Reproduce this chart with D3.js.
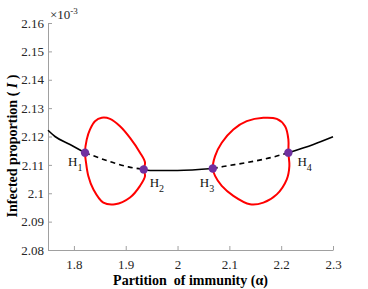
<!DOCTYPE html>
<html>
<head>
<meta charset="UTF-8">
<style>
  body { margin: 0; background: #fff; }
  svg, svg text, .tick text { font-family: "Liberation Serif", "Times New Roman", Times, serif !important; }
</style>
<script src="https://d3js.org/d3.v7.min.js"></script>
</head>
<body>
<script>
// values in units of 1e-3
var xTicks = [1.8, 1.9, 2.0, 2.1, 2.2, 2.3];
var yTicks = [2.08, 2.09, 2.10, 2.11, 2.12, 2.13, 2.14, 2.15, 2.16];

var solidA = [[1.75, 2.1222], [1.7635, 2.1200], [1.7925, 2.1172], [1.8214, 2.1143]];
var dashedA = [[1.8214, 2.1143], [1.8755, 2.1108], [1.905, 2.1093], [1.9347, 2.1084]];
var solidB = [[1.9347, 2.1084], [1.947, 2.1080], [2.0, 2.1080], [2.068, 2.1087]];
var dashedB = [[2.068, 2.1087], [2.0878, 2.1094], [2.1336, 2.1108], [2.1915, 2.1131], [2.2139, 2.1143]];
var solidC = [[2.2139, 2.1143], [2.2622, 2.1172], [2.3, 2.1199]];

var loop1 = [[1.8214, 2.1143], [1.8247, 2.1189], [1.8311, 2.1225], [1.8407, 2.1254], [1.8537, 2.1266],
  [1.8697, 2.1262], [1.889, 2.1236], [1.9083, 2.1195], [1.9276, 2.1143], [1.9373, 2.1108],
  [1.9347, 2.1084], [1.9373, 2.1061], [1.9276, 2.1026], [1.9083, 2.0985], [1.8793, 2.0961],
  [1.8568, 2.0967], [1.8375, 2.1014], [1.8278, 2.1061], [1.8234, 2.1108]];
var loop2 = [[2.068, 2.1087], [2.0724, 2.1131], [2.0853, 2.1178], [2.1077, 2.1225], [2.1336, 2.1254],
  [2.1656, 2.1266], [2.1915, 2.1262], [2.2075, 2.1236], [2.2139, 2.1189], [2.2139, 2.1143],
  [2.2158, 2.1096], [2.2108, 2.1049], [2.1915, 2.0996], [2.1656, 2.0967], [2.14, 2.0961],
  [2.1077, 2.0991], [2.0853, 2.1026], [2.0724, 2.1061]];

var hopf = [[1.8214, 2.1143], [1.9347, 2.1084], [2.068, 2.1087], [2.2139, 2.1143]];
var hopfNames = ["1", "2", "3", "4"];

var W = 368, H = 289;
var m = {left: 48, right: 35, top: 23, bottom: 39};

var svg = d3.select("body").append("svg").attr("width", W).attr("height", H);

var x = d3.scaleLinear().domain([1.75, 2.3]).range([m.left, W - m.right]);
var y = d3.scaleLinear().domain([2.08, 2.16]).range([H - m.bottom, m.top]);

var smoothLine = d3.line().curve(d3.curveMonotoneX).x(function(d) { return x(d[0]); }).y(function(d) { return y(d[1]); });
var loopLine = d3.line().curve(d3.curveCatmullRomClosed.alpha(0.5)).x(function(d) { return x(d[0]); }).y(function(d) { return y(d[1]); });

// axes, ticks inward
var xAxis = svg.append("g").attr("transform", "translate(0," + (H - m.bottom) + ")")
  .call(d3.axisBottom(x).tickValues(xTicks).tickSizeInner(-4).tickSizeOuter(0).tickPadding(10).tickFormat(d3.format("")));
var yAxis = svg.append("g").attr("transform", "translate(" + m.left + ",0)")
  .call(d3.axisLeft(y).tickValues(yTicks).tickSizeInner(-4).tickSizeOuter(0).tickPadding(4).tickFormat(d3.format("")));
[xAxis, yAxis].forEach(function(a) {
  a.attr("font-family", null).attr("font-size", 13);
  a.select(".domain").attr("stroke", "#a0a0a0");
  a.selectAll(".tick line").attr("stroke", "#a0a0a0");
  a.selectAll(".tick text").attr("fill", "#262626");
});

// branches
[solidA, solidB, solidC].forEach(function(s) {
  svg.append("path").attr("d", smoothLine(s)).attr("fill", "none").attr("stroke", "#000").attr("stroke-width", 1.6);
});
[dashedA, dashedB].forEach(function(s) {
  svg.append("path").attr("d", smoothLine(s)).attr("fill", "none").attr("stroke", "#000")
    .attr("stroke-width", 1.6).attr("stroke-dasharray", "5,4");
});
[loop1, loop2].forEach(function(s) {
  svg.append("path").attr("d", loopLine(s)).attr("fill", "none").attr("stroke", "#ff0000").attr("stroke-width", 2);
});

svg.selectAll("circle.hopf").data(hopf).enter().append("circle")
  .attr("class", "hopf")
  .attr("cx", function(d) { return x(d[0]); })
  .attr("cy", function(d) { return y(d[1]); })
  .attr("r", 4.2).attr("fill", "#7030a0");

// H labels
var lblOff = [[-17, 13], [6, 18], [-13, 18], [9, 13]];
hopf.forEach(function(d, i) {
  var t = svg.append("text")
    .attr("x", x(d[0]) + lblOff[i][0]).attr("y", y(d[1]) + lblOff[i][1])
    .attr("font-size", 13).attr("fill", "#111");
  t.append("tspan").text("H");
  t.append("tspan").attr("font-size", 10).attr("dy", 5).text(hopfNames[i]);
});

// exponent
var ex = svg.append("text").attr("x", m.left + 2).attr("y", 19).attr("font-size", 13).attr("fill", "#262626");
ex.append("tspan").text("\u00d710");
ex.append("tspan").attr("font-size", 9).attr("dy", -5).text("-3");

// axis titles
svg.append("text").attr("x", (m.left + W - m.right) / 2).attr("y", 285)
  .attr("text-anchor", "middle").attr("font-size", 14).attr("font-weight", "bold")
  .text("Partition\u00a0 of immunity (\u03b1)");

var yl = svg.append("text")
  .attr("transform", "translate(17,146) rotate(-90)")
  .attr("text-anchor", "middle").attr("font-size", 14).attr("font-weight", "bold");
yl.append("tspan").text("Infected proportion ( ");
yl.append("tspan").attr("font-style", "italic").text("I");
yl.append("tspan").text(" )");
</script>
</body>
</html>
